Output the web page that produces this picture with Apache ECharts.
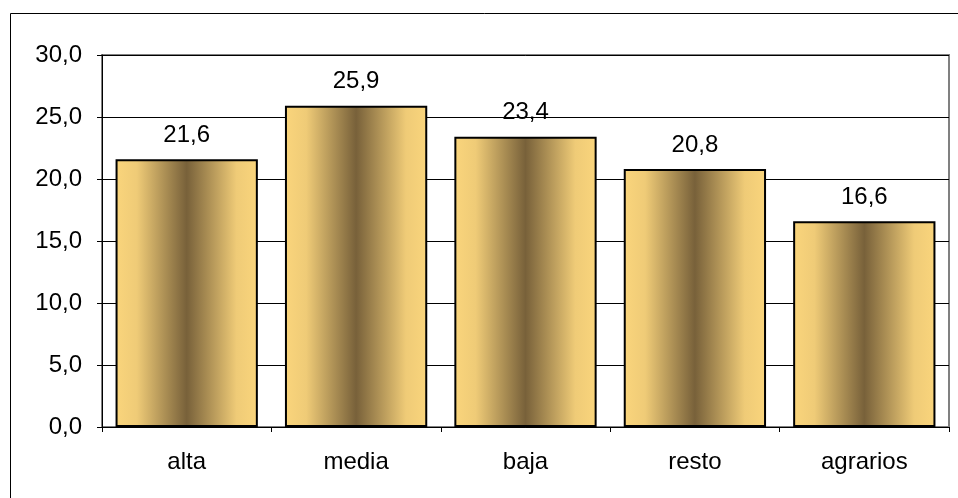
<!DOCTYPE html>
<html>
<head>
<meta charset="utf-8">
<script src="https://cdn.jsdelivr.net/npm/echarts@6/dist/echarts.min.js"></script>
<style>
html,body{margin:0;padding:0;background:#fff;}
#c{width:958px;height:498px;}
</style>
</head>
<body>
<div id="c"></div>
<script>
const categories = ['alta', 'media', 'baja', 'resto', 'agrarios'];
const values = [21.6, 25.9, 23.4, 20.8, 16.6];
const yTicks = [0, 5, 10, 15, 20, 25, 30];

const fmt = v => Number(v).toFixed(1).replace('.', ',');
const chart = echarts.init(document.getElementById('c'), null, {renderer: 'canvas'});
const grad = new echarts.graphic.LinearGradient(0, 0, 1, 0, [
  {offset: 0, color: '#FAD57C'},
  {offset: 0.15, color: '#EFCB77'},
  {offset: 0.5, color: '#78613A'},
  {offset: 0.85, color: '#EFCB77'},
  {offset: 1, color: '#FAD57C'}
]);
const font = 'Liberation Sans, Arial';
chart.setOption({
  animation: false,
  grid: {left: 102, top: 55, right: 9, bottom: 71, show: true, borderColor: '#808080', borderWidth: 2, backgroundColor: 'transparent'},
  graphic: [{
    type: 'rect', shape: {x: 10.5, y: 13.5, width: 1000, height: 1000},
    style: {fill: 'none', stroke: '#000', lineWidth: 1}, silent: true, z: 0
  }],
  xAxis: {
    type: 'category', data: categories,
    axisLine: {lineStyle: {color: '#000', width: 1}},
    axisTick: {show: true, length: 5, lineStyle: {color: '#000'}},
    axisLabel: {color: '#000', fontFamily: font, fontSize: 24, margin: 23}
  },
  yAxis: {
    type: 'value', min: yTicks[0], max: yTicks[yTicks.length - 1], interval: 5,
    axisLine: {show: true, lineStyle: {color: '#000', width: 1}},
    axisTick: {show: true, length: 5, lineStyle: {color: '#000'}},
    splitLine: {lineStyle: {color: '#000', width: 1}},
    axisLabel: {color: '#000', fontFamily: font, fontSize: 24, margin: 20, formatter: fmt}
  },
  series: [{
    type: 'bar', data: values, barCategoryGap: '16%',
    itemStyle: {color: grad, borderColor: '#000', borderWidth: 2},
    label: {show: true, position: 'top', distance: 12, color: '#000', fontFamily: font, fontSize: 24, formatter: p => fmt(p.value)}
  }]
});
</script>
</body>
</html>
